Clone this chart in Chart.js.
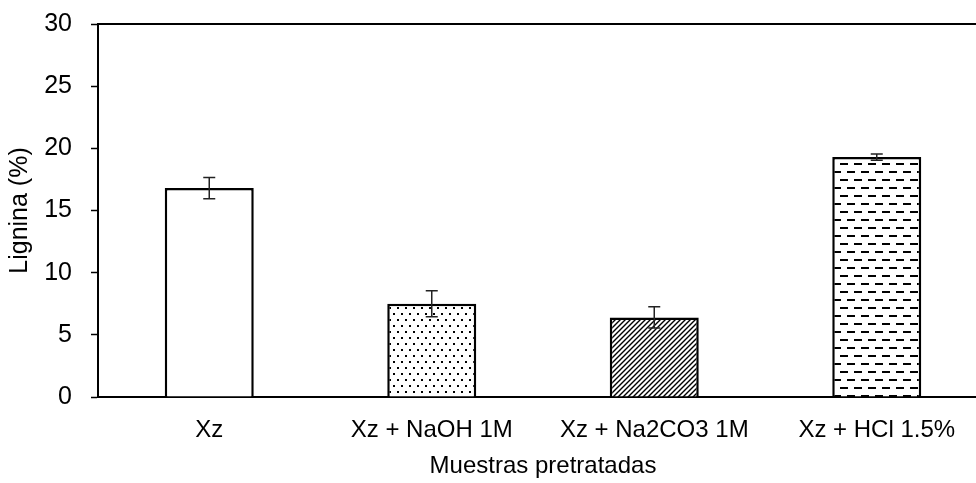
<!DOCTYPE html>
<html>
<head>
<meta charset="utf-8">
<script src="https://cdn.jsdelivr.net/npm/chart.js@4.4.1/dist/chart.umd.min.js"></script>
<style>
  html, body { margin: 0; padding: 0; background: #fff; overflow: hidden; }
  #wrap { width: 988px; height: 483px; }
</style>
</head>
<body>
<div id="wrap"><canvas id="grafico" width="988" height="483"></canvas></div>
<script>
// muestras y porcentaje de lignina
const muestras = ["Xz", "Xz + NaOH 1M", "Xz + Na2CO3 1M", "Xz + HCl 1.5%"];
const lignina = [16.8, 7.5, 6.4, 19.3];
const desviacion = [0.85, 1.05, 0.85, 0.25];
const ticksY = [0, 5, 10, 15, 20, 25, 30];

const FUENTE = "'Liberation Sans', Arial, sans-serif";

// motivos de relleno para cada barra
function motivo(tipo) {
    const c = document.createElement('canvas');
    const ctx = c.getContext('2d');
    if (tipo === 'puntos') {
        c.width = 16; c.height = 12;
        ctx.fillStyle = '#fff';
        ctx.fillRect(0, 0, 16, 12);
        ctx.fillStyle = '#000';
        ctx.fillRect(1, 1, 2, 2);
        ctx.fillRect(9, 1, 2, 2);
        ctx.fillRect(5, 7, 2, 2);
        ctx.fillRect(13, 7, 2, 2);
    } else if (tipo === 'diagonal') {
        c.width = 5; c.height = 5;
        ctx.fillStyle = '#fff';
        ctx.fillRect(0, 0, 5, 5);
        ctx.strokeStyle = '#000';
        ctx.lineWidth = 1.4;
        ctx.beginPath();
        ctx.moveTo(-1, 6); ctx.lineTo(6, -1);
        ctx.moveTo(-1, 1); ctx.lineTo(1, -1);
        ctx.moveTo(4, 6); ctx.lineTo(6, 4);
        ctx.stroke();
    } else if (tipo === 'guiones') {
        c.width = 14; c.height = 16;
        ctx.fillStyle = '#fff';
        ctx.fillRect(0, 0, 14, 16);
        ctx.fillStyle = '#000';
        ctx.fillRect(0, 3, 8, 2);
        ctx.fillRect(7, 11, 7, 2);
        ctx.fillRect(0, 11, 1, 2);
    } else {
        return '#ffffff';
    }
    return ctx.createPattern(c, 'repeat');
}

const rellenos = [motivo('blanco'), motivo('puntos'), motivo('diagonal'), motivo('guiones')];

// barras de error y linea superior del marco
const extras = {
    id: 'extras',
    afterDatasetsDraw(chart) {
        const ctx = chart.ctx;
        const x = chart.scales.x, y = chart.scales.y;
        ctx.save();
        ctx.strokeStyle = '#222';
        ctx.lineWidth = 1.5;
        lignina.forEach((v, i) => {
            const cx = x.getPixelForValue(i);
            const y1 = y.getPixelForValue(v + desviacion[i]);
            const y2 = y.getPixelForValue(v - desviacion[i]);
            ctx.beginPath();
            ctx.moveTo(cx, y1); ctx.lineTo(cx, y2);
            ctx.moveTo(cx - 6, y1); ctx.lineTo(cx + 6, y1);
            ctx.moveTo(cx - 6, y2); ctx.lineTo(cx + 6, y2);
            ctx.stroke();
        });
        const a = chart.chartArea;
        ctx.strokeStyle = '#000';
        ctx.lineWidth = 2;
        ctx.beginPath();
        ctx.moveTo(a.left, a.top); ctx.lineTo(a.right, a.top);
        ctx.stroke();
        ctx.restore();
    }
};

new Chart(document.getElementById('grafico'), {
    type: 'bar',
    data: {
        labels: muestras,
        datasets: [{
            data: lignina,
            backgroundColor: (c) => rellenos[c.dataIndex],
            borderColor: '#000',
            borderWidth: 2.5,
            borderSkipped: 'bottom',
            barPercentage: 0.4,
            categoryPercentage: 1
        }]
    },
    options: {
        responsive: false,
        animation: false,
        layout: { padding: { top: 24, right: 0, left: 0, bottom: 0 } },
        plugins: { legend: { display: false }, tooltip: { enabled: false } },
        scales: {
            x: {
                grid: { display: false },
                border: { color: '#000', width: 2 },
                ticks: { color: '#000', font: { family: FUENTE, size: 24 }, padding: 11, maxRotation: 0, autoSkip: false },
                title: { display: true, text: 'Muestras pretratadas', color: '#000', font: { family: FUENTE, size: 24 }, padding: { top: 4, bottom: 2 } },
                afterFit(s) { s.height = 86; }
            },
            y: {
                min: 0, max: 30,
                afterBuildTicks(s) { s.ticks = ticksY.map(v => ({ value: v })); },
                grid: { drawOnChartArea: false, drawTicks: true, tickLength: 7, color: '#000', tickWidth: 1.5 },
                border: { color: '#000', width: 2 },
                ticks: { color: '#000', font: { family: FUENTE, size: 25 }, padding: 19 },
                title: { display: true, text: 'Lignina (%)', color: '#000', font: { family: FUENTE, size: 25 }, padding: { top: 5, bottom: 0 } },
                afterFit(s) { s.width = 98; s.paddingTop = 10; s.paddingBottom = 10; }
            }
        }
    },
    plugins: [extras]
});
</script>
</body>
</html>
